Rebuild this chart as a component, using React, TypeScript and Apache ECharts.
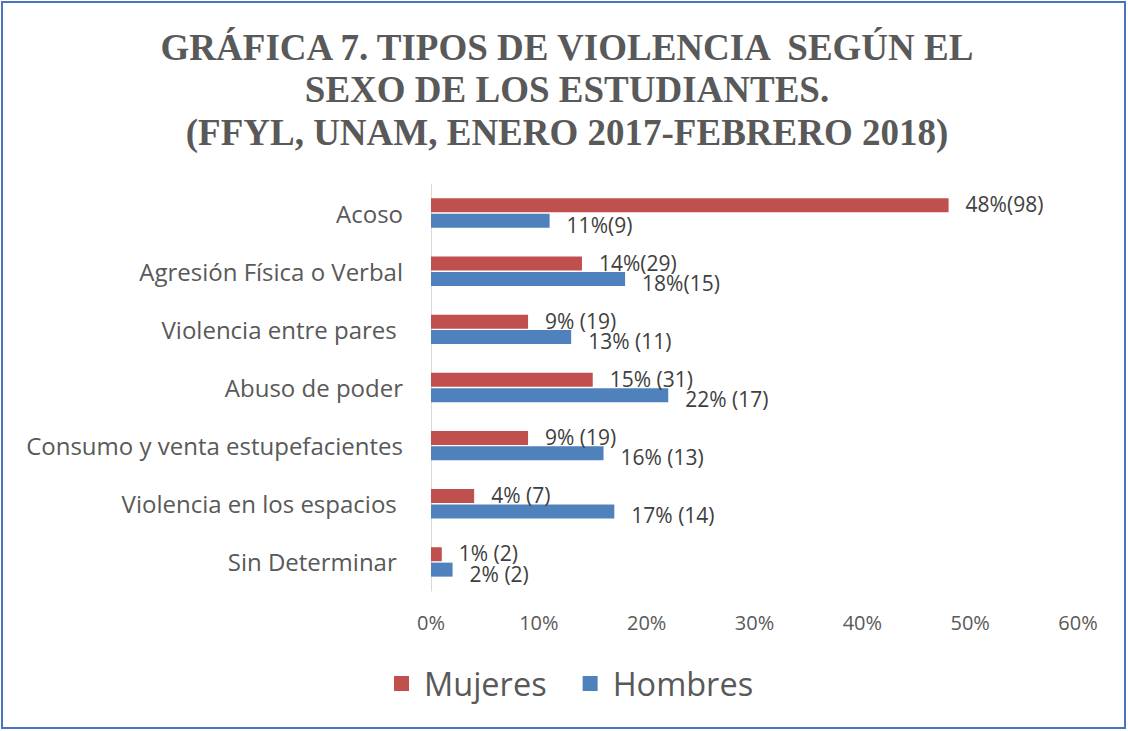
import React, { useEffect, useRef } from "react";
import * as echarts from "echarts";

const categories = [
  "Acoso",
  "Agresión Física o Verbal",
  "Violencia entre pares ",
  "Abuso de poder",
  "Consumo y venta estupefacientes",
  "Violencia en los espacios ",
  "Sin Determinar ",
];
const mujeres = [48, 14, 9, 15, 9, 4, 1];
const hombres = [11, 18, 13, 22, 16, 17, 2];
const mujeresLabels = ["48%(98)", "14%(29)", "9% (19)", "15% (31)", "9% (19)", "4% (7)", "1% (2)"];
const hombresLabels = ["11%(9)", "18%(15)", "13% (11)", "22% (17)", "16% (13)", "17% (14)", "2% (2)"];
const xTicks = [0, 10, 20, 30, 40, 50, 60];
const titleLines = [
  "GRÁFICA 7. TIPOS DE VIOLENCIA  SEGÚN EL",
  "SEXO DE LOS ESTUDIANTES.",
  "(FFYL, UNAM, ENERO 2017-FEBRERO 2018)",
];

const FONT = "'Open Sans', 'Noto Sans', sans-serif";

export default function App() {
  const ref = useRef<HTMLDivElement>(null);
  useEffect(() => {
    const chart = echarts.init(ref.current!, null, { renderer: "svg" });
    chart.setOption({
      animation: false,
      backgroundColor: "#ffffff",
      legend: {
        bottom: 26,
        left: 389,
        itemWidth: 15,
        itemHeight: 15,
        itemGap: 36,
        icon: "rect",
        textStyle: { fontFamily: FONT, fontSize: 32.5, color: "#595959", padding: [0, 0, 0, 10] },
        data: ["Mujeres", "Hombres"],
      },
      graphic: [
        {
          type: "rect",
          shape: { x: 2, y: 2, width: 1123, height: 726 },
          style: { fill: "none", stroke: "#4A74C2", lineWidth: 2 },
          silent: true,
        },
        {
          type: "text",
          x: 567,
          y: 26,
          silent: true,
          style: {
            text: titleLines.join("\n"),
            align: "center",
            verticalAlign: "top",
            fontFamily: "'Liberation Serif', serif",
            fontWeight: "bold",
            fontSize: 37,
            lineHeight: 42.5,
            fill: "#595959",
          },
        },
      ],
      grid: { left: 431, right: 50, top: 184, bottom: 140, containLabel: false },
      xAxis: {
        type: "value",
        min: 0,
        max: 60,
        interval: 10,
        axisLine: { show: false },
        axisTick: { show: false },
        splitLine: { show: false },
        axisLabel: {
          formatter: (v: number) => (xTicks.includes(v) ? v + "%" : ""),
          fontFamily: FONT,
          fontSize: 20,
          color: "#595959",
          margin: 21,
        },
      },
      yAxis: {
        type: "category",
        inverse: true,
        data: categories,
        axisLine: { show: true, lineStyle: { color: "#D9D9D9", width: 1 } },
        axisTick: { show: false },
        axisLabel: { fontFamily: FONT, fontSize: 24, color: "#595959", margin: 28 },
      },
      series: [
        {
          name: "Mujeres",
          type: "bar",
          data: mujeres,
          barWidth: 14,
          barGap: "10%",
          itemStyle: { color: "#C0504D" },
          label: {
            show: true,
            position: "right",
            distance: 17,
            offset: [0, -1],
            formatter: (p: any) => mujeresLabels[p.dataIndex],
            fontFamily: FONT,
            fontSize: 21,
            color: "#404040",
          },
        },
        {
          name: "Hombres",
          type: "bar",
          data: hombres,
          barWidth: 14,
          barGap: "10%",
          itemStyle: { color: "#4F81BD" },
          label: {
            show: true,
            position: "right",
            distance: 17,
            offset: [0, 4],
            formatter: (p: any) => hombresLabels[p.dataIndex],
            fontFamily: FONT,
            fontSize: 21,
            color: "#404040",
          },
        },
      ],
    });
    return () => chart.dispose();
  }, []);
  return (
    <div
      ref={ref}
      style={{ position: "absolute", left: 0, top: 0, width: 1128, height: 731 }}
    />
  );
}
